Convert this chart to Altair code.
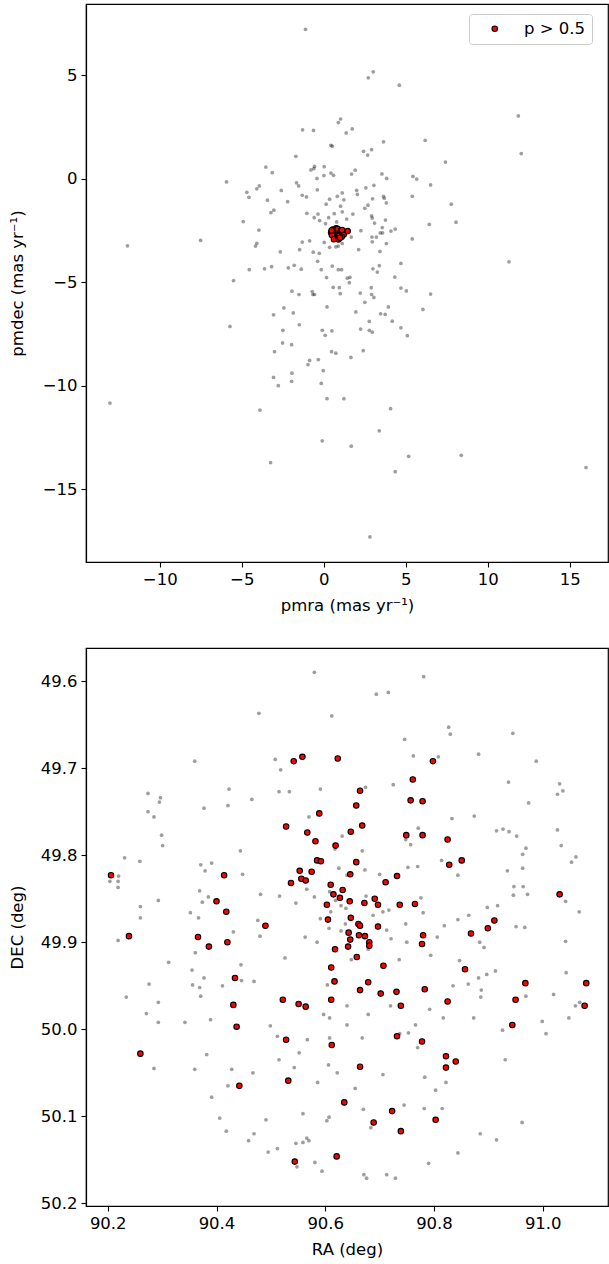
import altair as alt
import pandas as pd

# ---------------- top panel: proper motions ----------------
grey_pmra = [-1.11, 0.89, 1.03, -1.29, -0.62, 1.37, 0.44, 0.52, -1.70, -3.53, -3.14, -0.78, -0.60, -0.56, 0.03, 0.01, 0.44, 0.60, -0.41, -5.93,
             -1.66, -1.53, -4.69, -4.56, -4.08, -3.93, -2.59, -0.39, -1.31, -1.05, -3.43, -2.20, 0.36, 0.15, 0.83, 1.13, 1.23, 1.03, -3.22, -3.04,
             -1.03, -0.58, -0.35, -0.25, 0.30, 0.64, 1.13, 1.40, 0.11, 0.79, -4.91, -3.95, -7.51, -11.97, -4.16, -4.08, -1.31, -0.86, 0.03, 0.36,
             0.74, 0.89, 1.13, -2.65, -1.47, -0.64, -0.27, -0.37, -4.54, -3.61, -3.18, -2.16, -1.80, -1.37, -0.15, 0.52, 0.89, 1.09, 0.17, 1.44,
             -5.50, 0.58, 0.95, -1.94, -1.51, -0.70, -0.66, -0.56, 1.01, 0.20, -2.43, -3.06, -1.86, -5.72, -1.49, -2.49, -0.09, 0.09, 0.50, -2.51,
             -1.96, -3.00, 0.48, 0.74, -0.33, -0.86, -0.96, -0.03, -3.06, -1.94, -1.96, -2.77, -0.15, -13.04, -3.89, 0.20, 1.23, -0.09, -3.24,
             2.72, 3.02, 4.61, 11.87, 1.74, 3.65, 6.19, 2.43, 2.68, 2.92, 12.05, 7.42, 1.70, 1.92, 3.55, 3.84, 5.44, 5.67, 6.52, 2.01,
             2.05, 2.57, 3.06, 2.98, 3.65, 3.69, 3.82, 5.40, 2.51, 2.70, 7.78, 1.78, 2.92, 2.96, 3.10, 3.77, 6.44, 8.07, 2.27, 1.68,
             2.94, 2.96, 3.21, 3.45, 3.59, 3.57, 4.10, 4.36, 3.82, 5.40, 2.13, 3.43, 4.71, 11.30, 3.00, 3.27, 3.39, 1.60, 1.56, 4.34,
             4.71, 5.04, 2.23, 2.90, 2.92, 3.06, 6.52, 2.51, 3.94, 3.47, 3.75, 6.05, 1.96, 4.18, 2.78, 2.78, 2.96, 2.25, 4.71, 5.10,
             2.41, 1.66, 4.08, 3.39, 1.68, 5.18, 8.39, 4.36, 16.00, 2.82]
grey_pmdec = [7.21, 2.71, 2.88, 2.36, 2.33, 2.21, 1.61, 1.57, 1.08, 0.56, 0.29, 0.42, 0.49, 0.59, 0.58, 0.15, 0.27, 0.16, 0.01, -0.16,
              -0.20, -0.35, -0.66, -0.90, -0.49, -0.35, -0.57, -0.54, -0.80, -0.88, -1.04, -1.11, -0.99, -1.23, -0.85, -0.69, -1.02, -1.33, -1.64, -1.52,
              -1.67, -1.88, -1.71, -2.02, -1.88, -1.69, -1.60, -1.95, -2.17, -2.09, -2.07, -2.48, -2.98, -3.24, -3.25, -3.12, -3.06, -3.00, -3.08, -3.31,
              -3.29, -3.25, -3.13, -3.53, -3.43, -3.55, -3.60, -3.99, -4.39, -4.35, -4.25, -4.30, -4.18, -4.37, -4.39, -4.22, -4.39, -4.39, -4.77, -4.80,
              -4.92, -5.25, -5.26, -5.43, -5.59, -5.45, -5.59, -5.59, -5.55, -6.19, -6.24, -6.57, -6.48, -7.13, -7.05, -7.32, -7.32, -7.56, -7.34, -7.93,
              -8.01, -8.35, -8.35, -8.42, -8.73, -8.77, -8.97, -9.26, -9.59, -9.39, -9.78, -9.99, -9.88, -10.83, -11.17, -10.62, -10.62, -12.65, -13.70,
              4.87, 5.16, 4.51, 3.03, 2.40, 1.78, 1.85, 1.32, 1.14, 1.40, 1.21, 0.80, 0.22, 0.41, 0.23, 0.01, 0.11, -0.02, -0.30, -0.56,
              -0.76, -0.44, -0.32, -0.97, -0.85, -0.95, -1.17, -0.85, -1.43, -1.28, -1.23, -1.71, -1.79, -1.90, -2.14, -2.00, -2.21, -2.10, -2.51, -2.82,
              -2.82, -3.05, -2.82, -2.62, -2.62, -2.36, -2.53, -2.43, -3.13, -2.91, -3.42, -3.51, -4.09, -4.01, -4.35, -4.51, -4.20, -4.76, -5.02, -4.75,
              -5.28, -5.42, -5.52, -5.26, -5.59, -5.73, -5.57, -5.97, -6.19, -6.52, -6.55, -6.31, -6.43, -6.88, -6.89, -7.32, -7.41, -7.26, -7.20, -7.58,
              -8.30, -8.63, -11.10, -12.17, -12.91, -13.40, -13.35, -14.14, -13.94, -17.29]

member_pmra = [0.55, 0.62, 0.70, 0.78, 0.85, 0.92, 1.00, 0.60, 0.68, 0.75, 0.82, 0.90, 0.98, 0.65, 0.72,
               0.80, 0.88, 0.58, 0.76, 0.84, 0.95, 0.70, 0.80, 1.05, 0.45, 0.50, 1.15, 1.22, 1.10, 0.62,
               0.90, 1.00, 0.48, 1.12, 1.46]
member_pmdec = [-2.45, -2.50, -2.48, -2.55, -2.52, -2.47, -2.58, -2.65, -2.62, -2.70, -2.68, -2.60, -2.66, -2.78, -2.75,
                -2.82, -2.72, -2.55, -2.40, -2.42, -2.75, -2.88, -2.90, -2.50, -2.60, -2.72, -2.62, -2.70, -2.80, -2.92,
                -2.93, -2.85, -2.50, -2.48, -2.53]

# ---------------- bottom panel: sky positions ----------------
grey_ra = [90.580, 90.478, 90.612, 90.360, 90.508, 90.518, 90.423, 90.515, 90.534, 90.591, 90.274, 90.297, 90.295, 90.377, 90.421, 90.465,
           90.274, 90.285, 90.570, 90.299, 90.301, 90.631, 90.444, 90.231, 90.259, 90.618, 90.371, 90.391, 90.379, 90.448, 90.220, 90.204,
           90.219, 90.219, 90.625, 90.640, 90.566, 90.369, 90.385, 90.374, 90.293, 90.481, 90.516, 90.546, 90.580, 90.608, 90.619, 90.629,
           90.638, 90.610, 90.591, 90.637, 90.260, 90.260, 90.352, 90.367, 90.476,
           90.781, 90.694, 90.716, 90.827, 90.830, 90.945, 90.746, 90.762, 90.808, 90.882, 90.988, 90.674, 90.725, 90.937, 91.031, 91.027,
           91.037, 90.974, 90.833, 90.874, 90.771, 90.915, 90.927, 90.938, 90.952, 91.027, 90.748, 90.757, 90.969, 90.963, 91.034, 90.668,
           91.061, 91.053, 90.814, 90.963, 90.935, 90.673, 90.700, 90.752, 90.770, 90.844, 90.947, 90.964, 90.946, 90.972, 90.675, 90.776,
           91.042, 90.706, 90.717, 90.688, 90.780, 90.898, 90.917, 90.864, 90.844, 91.067, 90.748, 90.819, 90.951, 90.967,
           90.219, 90.431, 90.480, 90.563, 90.585, 90.607, 90.629, 90.361, 90.312, 90.445, 90.526, 90.355, 90.377, 90.446, 90.469, 90.276,
           90.356, 90.369, 90.411, 90.604, 90.371, 90.234, 90.293, 90.271, 90.293, 90.342, 90.389, 90.499, 90.597, 90.608, 90.640, 90.640,
           90.512, 90.567, 90.608, 90.382, 90.552, 90.285, 90.360, 90.428, 90.467, 90.515, 90.543, 90.606, 90.622, 90.421, 90.586, 90.391,
           90.406, 90.491, 90.559, 90.603, 90.607, 90.418, 90.469, 90.459, 90.495, 90.512, 90.546, 90.559, 90.566, 90.570, 90.581, 90.594,
           90.548,
           90.713, 90.721, 90.750, 90.806, 90.884, 90.892, 91.042, 90.679, 90.648, 90.736, 90.794, 90.847, 90.882, 90.897, 90.913, 91.043,
           90.835, 90.863, 90.887, 90.886, 90.969, 91.020, 91.068, 91.060, 91.048, 90.720, 90.792, 90.817, 90.873, 90.679, 90.766, 90.753,
           90.737, 90.668, 90.926, 90.999, 91.006, 90.770, 90.931, 90.706, 90.783, 90.822, 90.655, 90.803, 90.745, 90.670, 90.782, 90.815,
           90.684, 90.962, 90.885, 90.915, 90.844, 90.790, 90.671, 90.676, 90.713, 90.729]
grey_dec = [49.590, 49.637, 49.640, 49.692, 49.690, 49.702, 49.724, 49.727, 49.727, 49.724, 49.729, 49.734, 49.739, 49.746, 49.743, 49.736,
            49.750, 49.756, 49.756, 49.777, 49.789, 49.778, 49.795, 49.803, 49.807, 49.793, 49.811, 49.809, 49.818, 49.822, 49.824, 49.830,
            49.830, 49.837, 49.815, 49.823, 49.839, 49.841, 49.848, 49.854, 49.852, 49.845, 49.847, 49.855, 49.848, 49.842, 49.852, 49.858,
            49.861, 49.865, 49.873, 49.879, 49.859, 49.872, 49.866, 49.872, 49.875,
            49.595, 49.615, 49.613, 49.653, 49.661, 49.660, 49.667, 49.686, 49.687, 49.684, 49.692, 49.722, 49.719, 49.716, 49.718, 49.730,
            49.726, 49.740, 49.758, 49.755, 49.769, 49.772, 49.770, 49.773, 49.778, 49.771, 49.782, 49.788, 49.792, 49.799, 49.789, 49.795,
            49.802, 49.808, 49.806, 49.815, 49.818, 49.817, 49.822, 49.814, 49.813, 49.823, 49.836, 49.836, 49.846, 49.845, 49.847, 49.849,
            49.853, 49.865, 49.863, 49.869, 49.866, 49.860, 49.858, 49.869, 49.874, 49.865, 49.879, 49.881, 49.882, 49.883,
            49.898, 49.888, 49.893, 49.894, 49.900, 49.884, 49.887, 49.912, 49.923, 49.926, 49.918, 49.932, 49.941, 49.944, 49.945, 49.948,
            49.949, 49.952, 49.950, 49.949, 49.962, 49.963, 49.969, 49.982, 49.992, 49.992, 49.989, 49.996, 49.983, 49.987, 49.973, 49.995,
            50.008, 50.012, 50.010, 50.029, 50.027, 50.045, 50.046, 50.046, 50.050, 50.035, 50.044, 50.041, 50.050, 50.065, 50.061, 50.078,
            50.102, 50.104, 50.097, 50.105, 50.101, 50.117, 50.120, 50.128, 50.141, 50.137, 50.131, 50.130, 50.125, 50.128, 50.153, 50.163,
            50.158,
            49.886, 49.896, 49.900, 49.894, 49.900, 49.906, 49.899, 49.908, 49.920, 49.920, 49.915, 49.921, 49.941, 49.937, 49.933, 49.935,
            49.950, 49.948, 49.955, 49.963, 49.962, 49.960, 49.969, 49.973, 49.987, 49.973, 49.977, 49.987, 49.987, 49.983, 49.995, 50.004,
            50.005, 50.010, 50.001, 49.991, 50.005, 50.021, 50.035, 50.052, 50.055, 50.061, 50.068, 50.070, 50.087, 50.092, 50.091, 50.091,
            50.113, 50.107, 50.120, 50.127, 50.142, 50.154, 50.167, 50.171, 50.167, 50.171]

member_ra = [90.542, 90.558, 90.623, 90.589, 90.528, 90.567, 90.582, 90.619, 90.585, 90.592, 90.553, 90.575, 90.556, 90.564, 90.537,
             90.414, 90.206, 90.400, 90.418, 90.610, 90.632, 90.615, 90.627, 90.603, 90.605, 90.490,
             90.798, 90.761, 90.664, 90.657, 90.757, 90.779, 90.668, 90.647, 90.749, 90.779, 90.825, 90.657, 90.828, 90.851, 90.646,
             90.732, 90.711, 90.645, 90.672, 90.691, 90.697, 90.737, 90.765, 91.031, 90.647, 90.661, 90.664, 90.911,
             90.239, 90.366, 90.386, 90.420, 90.618, 90.611, 90.617, 90.434, 90.431, 90.522, 90.551, 90.564, 90.611, 90.437, 90.528,
             90.612, 90.260, 90.442, 90.532, 90.635, 90.621, 90.544,
             90.697, 90.899, 90.868, 90.643, 90.662, 90.673, 90.646, 90.642, 90.681, 90.681, 90.780, 90.778, 90.658, 90.707, 90.857,
             90.679, 90.664, 90.702, 90.731, 90.783, 90.825, 90.739, 90.968, 91.080, 90.950, 91.077, 90.944, 90.732, 90.778, 90.822,
             90.840, 90.822, 90.664, 90.723, 90.689, 90.739, 90.803]
member_dec = [49.692, 49.687, 49.689, 49.752, 49.767, 49.774, 49.784, 49.789, 49.806, 49.807, 49.818, 49.819, 49.827, 49.829, 49.832,
              49.823, 49.823, 49.853, 49.865, 49.834, 49.840, 49.845, 49.849, 49.857, 49.874, 49.881,
              49.692, 49.713, 49.726, 49.743, 49.737, 49.738, 49.766, 49.773, 49.777, 49.777, 49.782, 49.808, 49.811, 49.806, 49.822,
              49.824, 49.831, 49.853, 49.855, 49.850, 49.857, 49.857, 49.856, 49.845, 49.872, 49.879, 49.881, 49.875,
              49.893, 49.894, 49.905, 49.900, 49.908, 49.929, 49.945, 49.941, 49.972, 49.966, 49.971, 49.974, 49.966, 49.997, 50.012,
              50.018, 50.028, 50.065, 50.059, 50.084, 50.146, 50.152,
              49.882, 49.884, 49.890, 49.889, 49.892, 49.893, 49.897, 49.905, 49.900, 49.904, 49.892, 49.902, 49.917, 49.927, 49.931,
              49.946, 49.955, 49.959, 49.957, 49.954, 49.968, 49.973, 49.947, 49.947, 49.966, 49.973, 49.995, 50.008, 50.014, 50.031,
              50.037, 50.044, 50.043, 50.094, 50.107, 50.117, 50.104]

legend_label = "p > 0.5"
pm_ticks_x = [-10, -5, 0, 5, 10, 15]
pm_ticks_y = [-15, -10, -5, 0, 5]
ra_ticks = [90.2, 90.4, 90.6, 90.8, 91.0]
dec_ticks = [49.6, 49.7, 49.8, 49.9, 50.0, 50.1, 50.2]

grey_top = pd.DataFrame({"pmra": grey_pmra, "pmdec": grey_pmdec})
red_top = pd.DataFrame({"pmra": member_pmra, "pmdec": member_pmdec, "sel": legend_label})
grey_bot = pd.DataFrame({"ra": grey_ra, "dec": grey_dec})
red_bot = pd.DataFrame({"ra": member_ra, "dec": member_dec})

W, H = 522, 558
GREY_SIZE = 14
RED_SIZE = 30
FS = 16.5

xs_top = alt.Scale(domain=[-14.5, 17.34], nice=False, zero=False)
ys_top = alt.Scale(domain=[-18.5, 8.43], nice=False, zero=False)
ax_top_x = alt.Axis(values=pm_ticks_x, title="pmra (mas yr⁻¹)", titleY=35)
ax_top_y = alt.Axis(values=pm_ticks_y, title="pmdec (mas yr⁻¹)", titleX=-61)

top_grey = alt.Chart(grey_top).mark_circle(size=GREY_SIZE, color="black", opacity=0.38).encode(
    x=alt.X("pmra:Q", scale=xs_top, axis=ax_top_x),
    y=alt.Y("pmdec:Q", scale=ys_top, axis=ax_top_y),
)
top_red = alt.Chart(red_top).mark_circle(size=RED_SIZE, stroke="black", strokeWidth=1.1, opacity=1).encode(
    x=alt.X("pmra:Q", scale=xs_top),
    y=alt.Y("pmdec:Q", scale=ys_top),
    color=alt.Color("sel:N", scale=alt.Scale(domain=[legend_label], range=["red"]),
                    legend=alt.Legend(title=None, orient="none", legendX=383, legendY=10,
                                      fillColor="white", strokeColor="#cccccc", cornerRadius=3,
                                      padding=6.5, symbolOffset=11, labelOffset=21,
                                      symbolType="circle", symbolSize=RED_SIZE,
                                      symbolStrokeColor="black", symbolStrokeWidth=1.1,
                                      labelFontSize=16.5, labelFont="DejaVu Sans", labelColor="black")),
)
top = alt.layer(top_grey, top_red).properties(width=W, height=H)

xs_bot = alt.Scale(domain=[90.16, 91.12], nice=False, zero=False)
ys_bot = alt.Scale(domain=[49.562, 50.203], nice=False, zero=False, reverse=True)
ax_bot_x = alt.Axis(values=ra_ticks, format=".1f", title="RA (deg)", titleY=35)
ax_bot_y = alt.Axis(values=dec_ticks, format=".1f", title="DEC (deg)", titleX=-61)

bot_grey = alt.Chart(grey_bot).mark_circle(size=GREY_SIZE, color="black", opacity=0.38).encode(
    x=alt.X("ra:Q", scale=xs_bot, axis=ax_bot_x),
    y=alt.Y("dec:Q", scale=ys_bot, axis=ax_bot_y),
)
bot_red = alt.Chart(red_bot).mark_circle(size=RED_SIZE, color="red", stroke="black", strokeWidth=1.1, opacity=1).encode(
    x=alt.X("ra:Q", scale=xs_bot),
    y=alt.Y("dec:Q", scale=ys_bot),
)
bottom = alt.layer(bot_grey, bot_red).properties(width=W, height=H)

chart = alt.vconcat(top, bottom, spacing=32).resolve_legend(color="independent").properties(
    padding={"left": 8, "top": 3, "right": 0, "bottom": 1}, background="white"
).configure_view(stroke="black", strokeWidth=1.2).configure_axis(
    grid=False, labelFont="DejaVu Sans", titleFont="DejaVu Sans", labelFontSize=FS, titleFontSize=FS,
    titleFontWeight="normal", labelColor="black", titleColor="black", tickColor="black", domainColor="black",
    tickSize=5, tickWidth=1.1, domainWidth=1.2, labelPadding=4, titlePadding=5
)

chart.save("out.html", embed_options={"renderer": "svg", "actions": False})
